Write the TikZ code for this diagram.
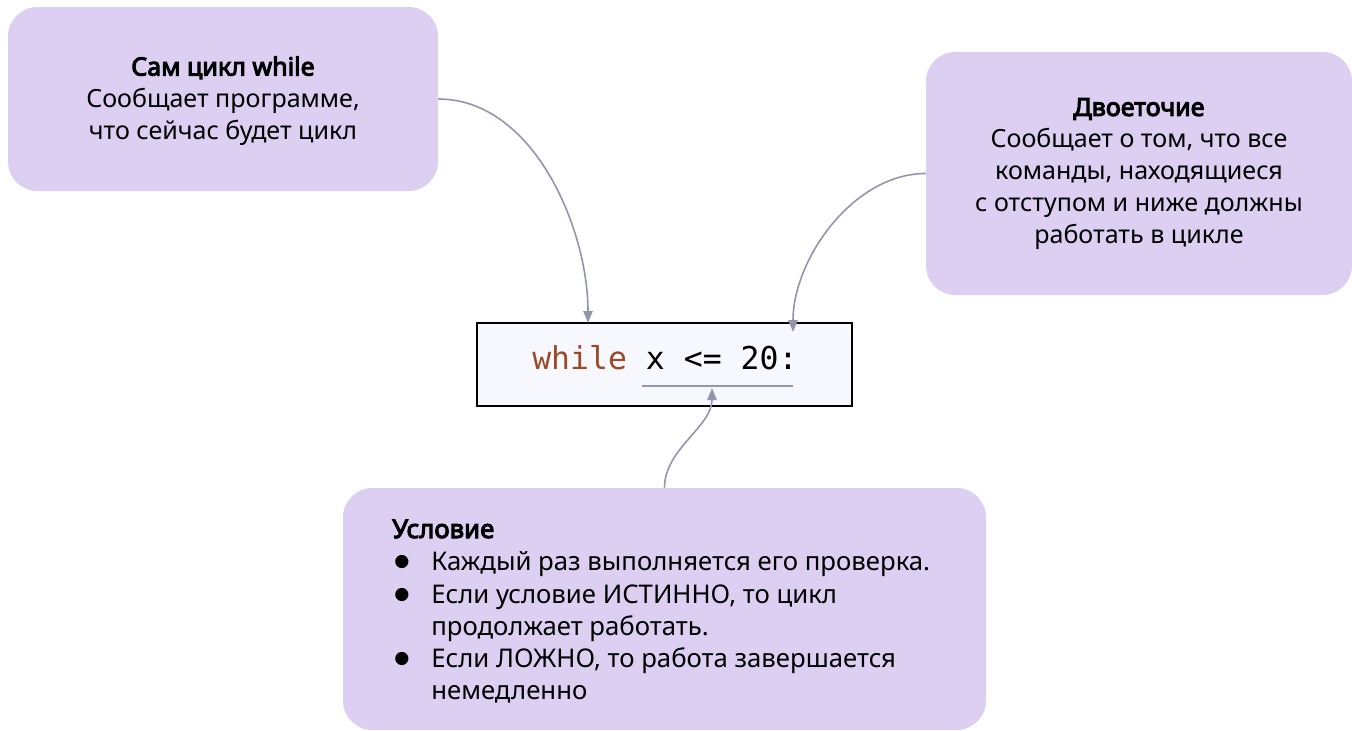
\documentclass[tikz,border=0pt]{standalone}
\usepackage{fontspec}
\setmainfont{Noto Sans}[AutoFakeBold=4]
\setmonofont{DejaVu Sans Mono}
\newfontfamily\dotfont{DejaVu Sans}
\usetikzlibrary{arrows.meta}
\definecolor{boxfill}{HTML}{DCCFF2}
\definecolor{linkgray}{HTML}{9395AA}
\definecolor{codefill}{HTML}{F7F8FD}
\definecolor{kwbrown}{HTML}{9A4A2B}
\tikzset{
  note/.style={fill=boxfill, draw=none, rounded corners=22pt, inner sep=0pt},
  txt/.style={font=\fontsize{18.8}{24}\selectfont, align=center, inner sep=0pt},
  ltxt/.style={font=\fontsize{19.3}{24}\selectfont, anchor=base west, inner sep=0pt},
  dot/.style={font=\dotfont\fontsize{13}{13}\selectfont, anchor=base west, inner sep=0pt},
  link/.style={draw=linkgray, line width=1.2pt, -{Triangle[length=9pt,width=7pt]}},
}
\begin{document}
\begin{tikzpicture}[x=0.75pt,y=-0.75pt]
\useasboundingbox (0,0) rectangle (1352,731);
% callout boxes
\node[note, minimum width=430*0.75pt, minimum height=184*0.75pt] (b1) at (223,99) {};
\node[note, minimum width=426*0.75pt, minimum height=243*0.75pt] (b2) at (1139,173.5) {};
\node[note, minimum width=643*0.75pt, minimum height=242*0.75pt] (b3) at (664.5,609) {};
% code line
\node[fill=codefill, draw=black, line width=1.5pt, minimum width=375*0.75pt, minimum height=83*0.75pt, inner sep=0pt] (code) at (664.5,364.5) {};
\node[anchor=base west, inner sep=0pt, font=\ttfamily\fontsize{23.6}{28}\selectfont] (src) at (532,369) {\textcolor{kwbrown}{while} x <= 20:};
% texts of the upper boxes
\node[txt] (t1) at (223,101) {\textbf{Сам цикл while}\\Сообщает программе,\\что сейчас будет цикл};
\node[txt] (t2) at (1139,174) {\textbf{Двоеточие}\\Сообщает о том, что все\\команды, находящиеся\\с отступом и ниже должны\\работать в цикле};
% condition box
\node[ltxt] (h3) at (392,538) {\textbf{Условие}};
\node[dot] (d1) at (394,566) {●};
\node[ltxt] (l1) at (431,570) {Каждый раз выполняется его проверка.};
\node[dot] (d2) at (394,599) {●};
\node[ltxt] (l2) at (431,603) {Если условие ИСТИННО, то цикл};
\node[ltxt] (l3) at (431,635) {продолжает работать.};
\node[dot] (d3) at (394,663) {●};
\node[ltxt] (l4) at (431,667) {Если ЛОЖНО, то работа завершается};
\node[ltxt] (l5) at (431,699) {немедленно};
% connectors
\coordinate (e1) at (588,323);
\coordinate (e2) at (793,332);
\coordinate (u1) at (642,386);
\coordinate (u2) at (793,386);
\coordinate (e3) at (712,388);
\draw[draw=linkgray, line width=1.2pt] (u1) -- (u2);
\draw[link] (b1.east) to[out=0, in=90, looseness=0.9] (e1);
\draw[link] (b2.west) to[out=180, in=90, looseness=0.9] (e2);
\draw[link] (b3.north) to[out=90, in=-90, looseness=0.9] (e3);
\end{tikzpicture}
\end{document}
